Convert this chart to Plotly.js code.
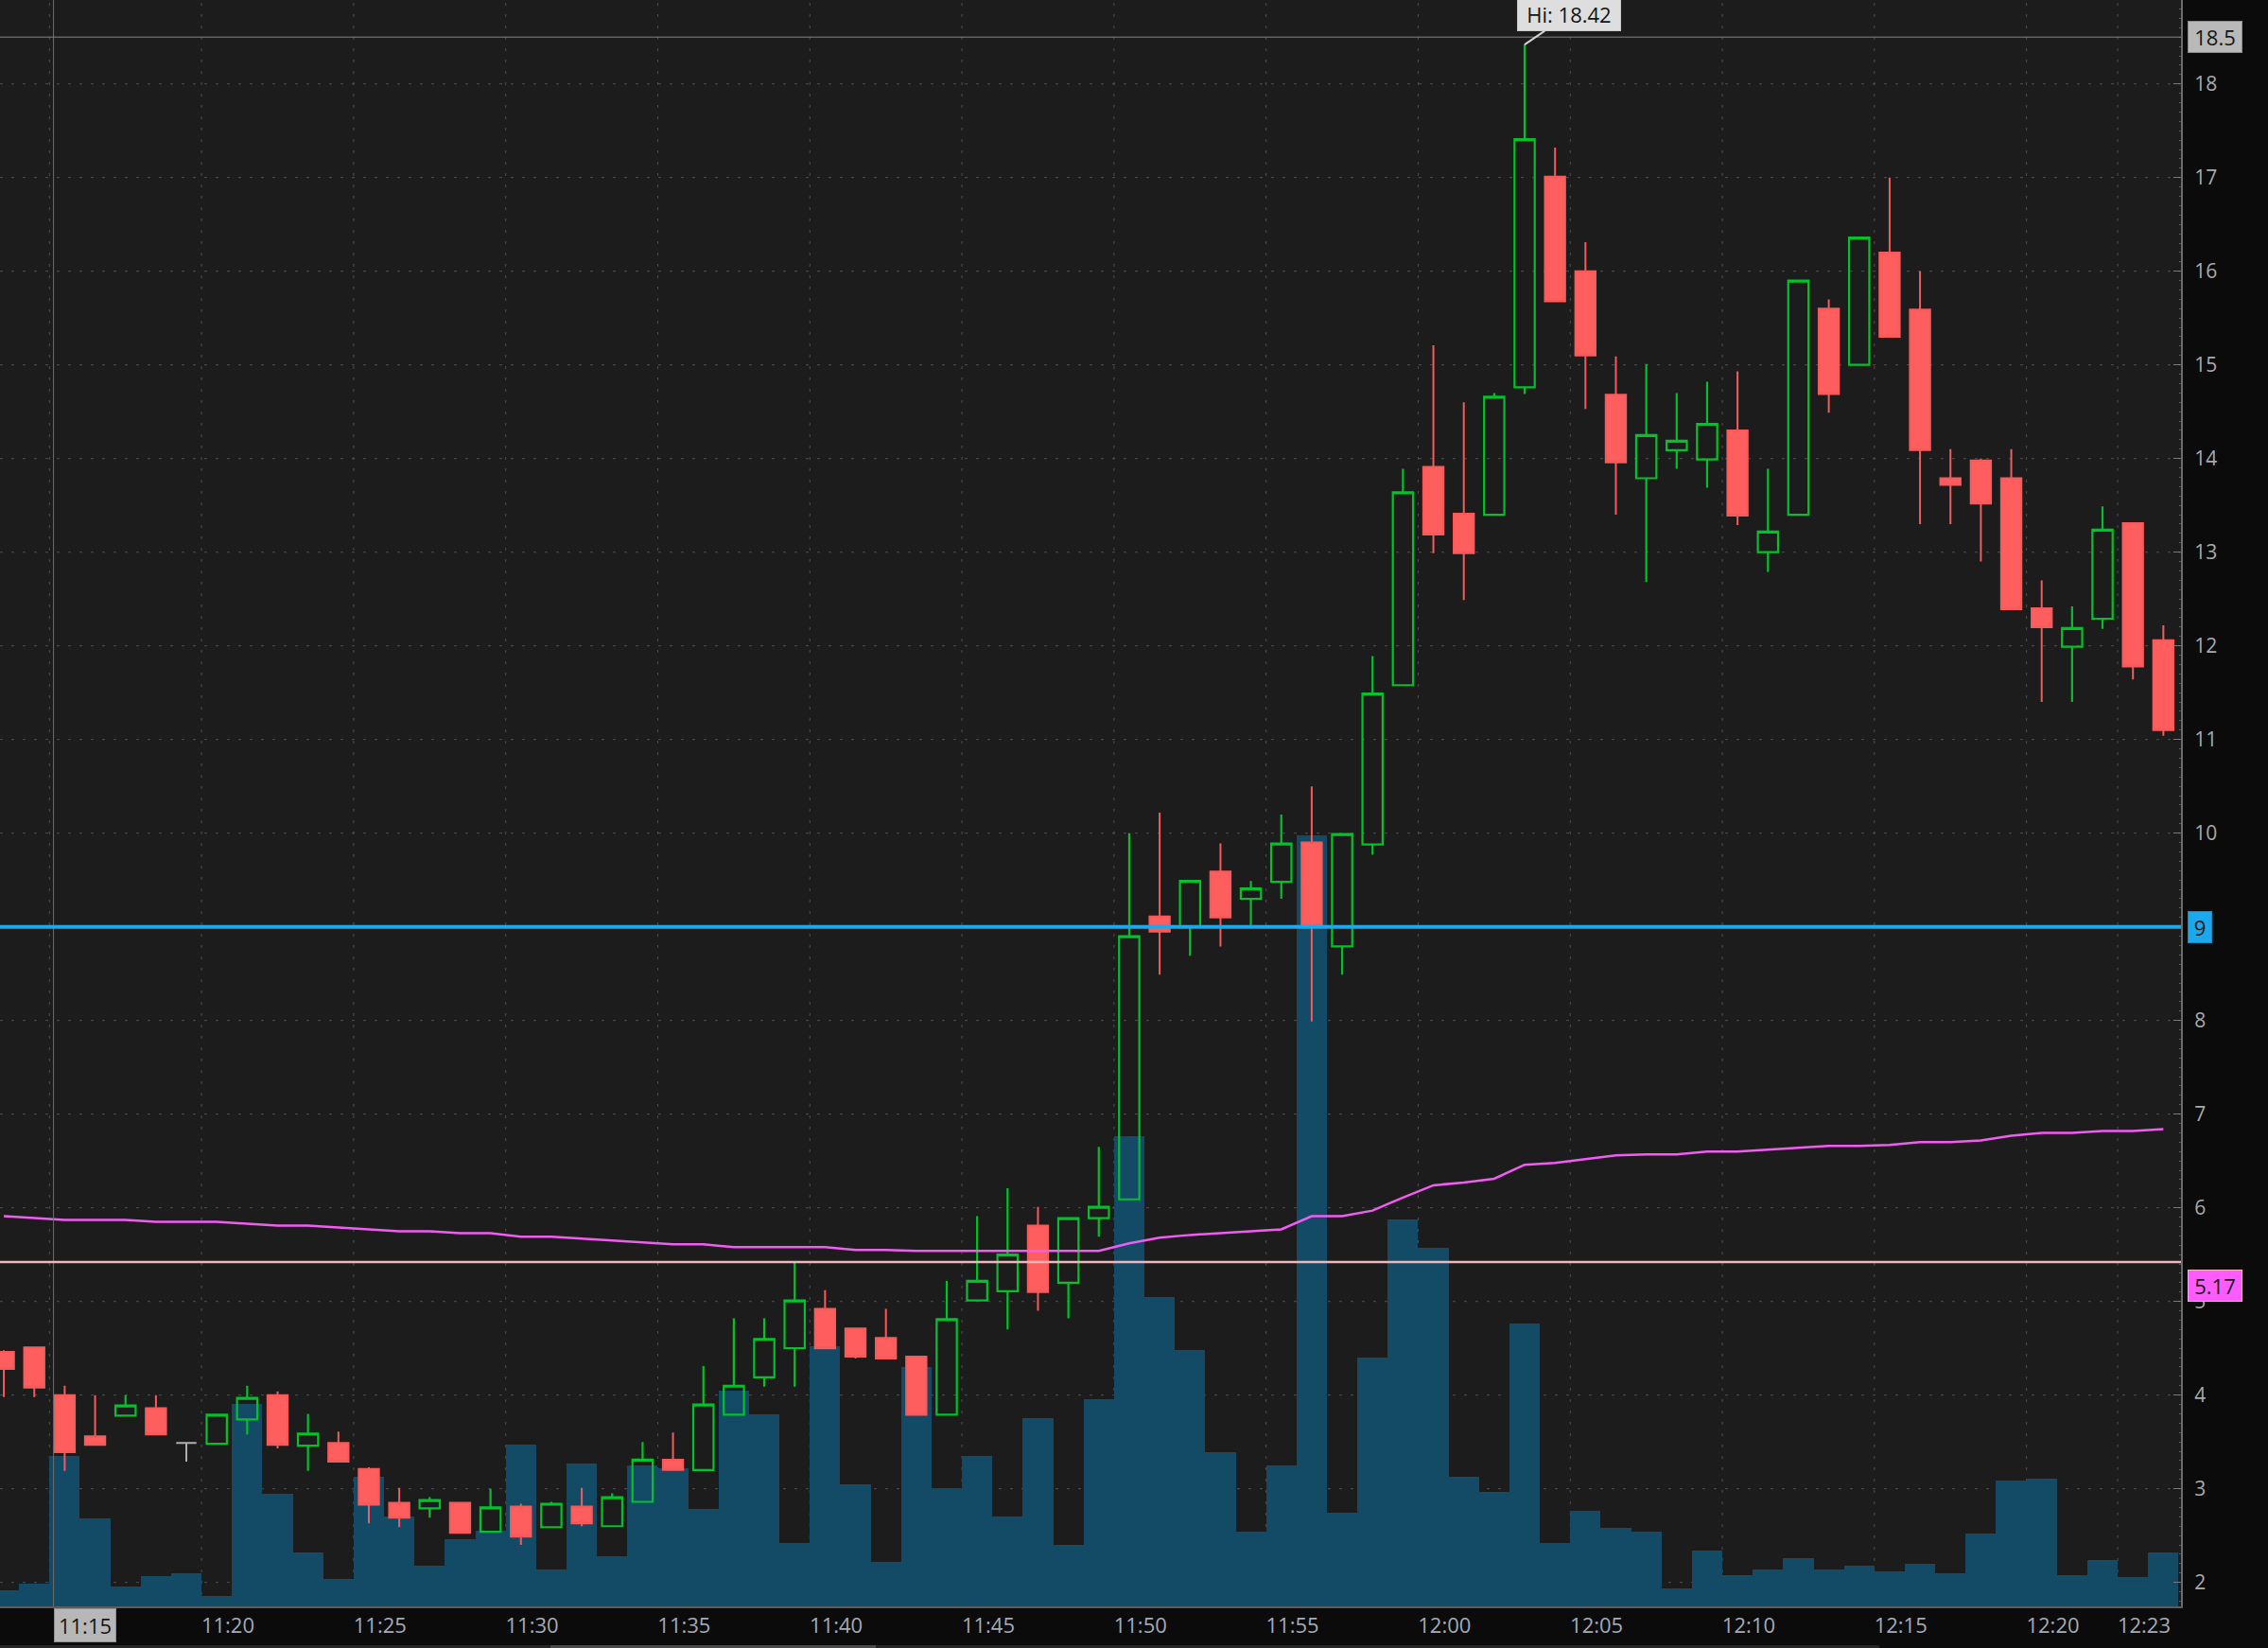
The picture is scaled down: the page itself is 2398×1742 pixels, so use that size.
<!DOCTYPE html>
<html><head><meta charset="utf-8">
<script src="https://cdn.plot.ly/plotly-3.0.1.min.js"></script>
<style>html,body{margin:0;padding:0;background:#0b0b0b;overflow:hidden}#chart{width:2398px;height:1742px}</style>
</head><body><div id="chart"></div>
<script>
const sessionDay = '2024-01-02';
const times = ['11:12','11:13','11:14','11:15','11:16','11:17','11:18','11:19','11:20','11:21','11:22','11:23',
'11:24','11:25','11:26','11:27','11:28','11:29','11:30','11:31','11:32','11:33','11:34','11:35',
'11:36','11:37','11:38','11:39','11:40','11:41','11:42','11:43','11:44','11:45','11:46','11:47',
'11:48','11:49','11:50','11:51','11:52','11:53','11:54','11:55','11:56','11:57','11:58','11:59',
'12:00','12:01','12:02','12:03','12:04','12:05','12:06','12:07','12:08','12:09','12:10','12:11',
'12:12','12:13','12:14','12:15','12:16','12:17','12:18','12:19','12:20','12:21','12:22','12:23'];
const openPx = [4.46,4.51,4.00,3.56,3.78,3.86,3.49,3.48,3.74,4.00,3.46,3.49,
3.21,2.85,2.79,2.85,2.54,2.81,2.59,2.81,2.60,2.86,3.31,3.20,
3.79,4.19,4.50,4.92,4.71,4.61,4.41,3.79,5.01,5.11,5.81,5.20,
5.89,6.09,9.11,9.00,9.59,9.30,9.48,9.90,8.79,9.88,11.58,13.91,
13.41,13.40,14.76,17.01,16.00,14.68,13.79,14.09,13.99,14.30,13.00,13.40,
15.60,15.00,16.20,15.59,13.79,13.98,13.79,12.40,11.99,12.29,13.31,12.06];
const highPx = [4.48,4.52,4.10,4.00,4.00,4.00,3.50,3.79,4.10,4.04,3.80,3.61,
3.23,3.01,2.91,2.86,3.00,2.84,2.86,3.01,2.95,3.50,3.60,4.31,
4.82,4.82,5.42,5.12,4.71,4.92,4.41,5.22,5.91,6.21,6.01,5.89,
6.65,10.00,10.22,9.49,9.89,9.49,10.20,10.50,9.99,11.89,13.89,15.21,
14.60,14.70,18.42,17.32,16.31,15.09,15.01,14.70,14.82,14.93,13.89,15.90,
15.70,16.36,17.00,16.00,14.10,14.00,14.10,12.70,12.42,13.49,13.31,12.22];
const lowPx = [3.98,3.98,3.19,3.46,3.78,3.58,3.29,3.48,3.58,3.43,3.19,3.29,
2.63,2.59,2.69,2.52,2.53,2.40,2.58,2.60,2.60,2.86,3.20,3.20,
3.79,4.09,4.09,4.50,4.39,4.39,3.79,3.79,5.01,4.70,4.90,4.82,
5.69,6.09,8.49,8.69,8.79,9.00,9.30,7.99,8.49,9.77,11.58,12.99,
12.49,13.40,14.69,15.68,14.53,13.40,12.68,13.89,13.69,13.29,12.79,13.40,
14.49,15.00,15.30,13.30,13.30,12.90,12.39,11.40,11.40,12.18,11.64,11.04];
const closePx = [4.28,4.08,3.39,3.47,3.89,3.58,3.49,3.79,3.97,3.47,3.59,3.29,
2.83,2.69,2.88,2.53,2.80,2.49,2.84,2.63,2.91,3.31,3.20,3.90,
4.10,4.60,5.01,4.50,4.41,4.39,3.79,4.81,5.22,5.50,5.10,5.89,
6.01,8.90,8.95,9.49,9.10,9.41,9.89,9.00,9.99,11.49,13.64,13.19,
12.99,14.66,17.41,15.68,15.10,13.96,14.25,14.19,14.37,13.39,13.22,15.90,
14.69,16.36,15.30,14.09,13.72,13.52,12.39,12.20,12.19,13.24,11.78,11.10];
const volumeK = [17,24,159,93,21,32,35,11,214,119,57,29,
137,95,43,71,80,171,39,151,53,149,146,103,
228,203,67,275,129,47,253,125,159,95,199,65,
219,497,327,271,163,79,149,815,99,263,409,379,
137,121,299,67,101,83,79,19,59,33,39,51,
39,43,37,45,35,77,133,135,33,49,31,57];
const vwapPx = [5.91,5.89,5.87,5.87,5.87,5.85,5.85,5.85,5.83,5.81,5.81,5.79,
5.77,5.75,5.75,5.73,5.73,5.69,5.69,5.67,5.65,5.63,5.61,5.61,
5.58,5.58,5.58,5.58,5.55,5.55,5.54,5.54,5.54,5.54,5.54,5.54,
5.54,5.62,5.68,5.71,5.73,5.75,5.77,5.91,5.91,5.97,6.11,6.24,
6.27,6.31,6.46,6.48,6.52,6.56,6.57,6.57,6.60,6.60,6.62,6.64,
6.66,6.66,6.67,6.70,6.70,6.72,6.77,6.80,6.80,6.82,6.82,6.84];
const timeTickLabels = ['11:15','11:20','11:25','11:30','11:35','11:40','11:45','11:50','11:55',
'12:00','12:05','12:10','12:15','12:20','12:23'];
const cursorTickLabel = '11:15';
const priceTicks = [2,3,4,5,6,7,8,9,10,11,12,13,14,15,16,17,18];
const alertLevel = 9;
const pinkLevel = 5.42;
const markerLevel = 18.5;
const studyLabelValue = 5.17;
const sessionHigh = 18.42;
const sessionHighTime = '12:02';

function pad(n){return String(n).padStart(2,'0');}
function ts(hhmm, offSec){
  const p = hhmm.split(':').map(Number);
  let s = p[0]*3600 + p[1]*60 + (offSec||0);
  const h = Math.floor(s/3600); s -= h*3600;
  const m = Math.floor(s/60); s -= m*60;
  return sessionDay + ' ' + pad(h) + ':' + pad(m) + ':' + s.toFixed(3).padStart(6,'0');
}
const xs = times.map(t => ts(t,0));
const isDoji = openPx.map((o,i) => o === closePx[i]);
const pick = (arr, want) => arr.map((v,i) => isDoji[i] === want ? v : null);

const GREEN = '#00c22b', RED = '#ff5e5e', GRAY = '#b0b0b0';
const yRange = [1.744, 18.896];

const traces = [
  {type:'bar', x: xs, y: volumeK, yaxis:'y', width: 60000,
   marker:{color:'#134a65', line:{width:0}}, hoverinfo:'skip'},
  {type:'scatter', mode:'lines', x: xs, y: vwapPx, yaxis:'y2', line:{color:'#f35cf3', width:2.5}, hoverinfo:'skip'},
  {type:'candlestick', x: xs, yaxis:'y2', open: pick(openPx,false), high: pick(highPx,false), low: pick(lowPx,false), close: pick(closePx,false),
   increasing:{line:{color:GREEN, width:2.2}, fillcolor:'rgba(0,0,0,0)'},
   decreasing:{line:{color:'#f65a5a', width:2}, fillcolor:RED},
   whiskerwidth:0, hoverinfo:'skip'},
  {type:'candlestick', x: xs, yaxis:'y2', open: pick(openPx,true), high: pick(highPx,true), low: pick(lowPx,true), close: pick(closePx,true),
   increasing:{line:{color:GRAY, width:2}, fillcolor:GRAY},
   decreasing:{line:{color:GRAY, width:2}, fillcolor:GRAY},
   whiskerwidth:0, hoverinfo:'skip'}
];

const xRange = [ts(times[0], -7.6), ts(times[times.length-1], 34.8)];
const gridLine = {color:'#4f4f4f', width:1, dash:'3px,9px'};
const shapes = [];
timeTickLabels.forEach(lbl => shapes.push({type:'line', xref:'x', yref:'y2', x0: ts(lbl,-90), x1: ts(lbl,-90), y0:yRange[0], y1:yRange[1],
  line:gridLine, layer:'below'}));
priceTicks.forEach(p => shapes.push({type:'line', xref:'paper', yref:'y2', x0:0, x1:1, y0:p, y1:p, line:gridLine, layer:'below'}));
shapes.push({type:'line', xref:'x', yref:'paper', x0: ts('11:13',38), x1: ts('11:13',38), y0:0, y1:1, line:{color:'#6f6f6f', width:1}, layer:'above'});
shapes.push({type:'line', xref:'paper', yref:'y2', x0:0, x1:1, y0:markerLevel, y1:markerLevel, line:{color:'#858585', width:1}, layer:'above'});
shapes.push({type:'line', xref:'paper', yref:'y2', x0:0, x1:1, y0:pinkLevel, y1:pinkLevel, line:{color:'#f3b4bc', width:2.5}, layer:'above'});
shapes.push({type:'line', xref:'paper', yref:'y2', x0:0, x1:1, y0:alertLevel, y1:alertLevel, line:{color:'#1ba8ec', width:4}, layer:'above'});
shapes.push({type:'rect', xref:'paper', yref:'paper', x0:0, x1:0.8617, y0:-0.0259, y1:-0.0241, line:{width:0}, fillcolor:'#262626'});
shapes.push({type:'rect', xref:'paper', yref:'paper', x0:0.2524, x1:0.4016, y0:-0.0259, y1:-0.0241, line:{width:0}, fillcolor:'#4a4a4a'});

const boxFont = {family:'Open Sans', size:22, color:'#151515'};
const annotations = [
  {xref:'paper', x:1, xanchor:'left', xshift:7, yref:'y2', y:markerLevel, text:String(markerLevel), showarrow:false,
   bgcolor:'#b9b9b9', bordercolor:'#8d8d8d', borderwidth:1, borderpad:1, width:54, font:boxFont},
  {xref:'paper', x:1, xanchor:'left', xshift:7, yref:'y2', y:alertLevel, text:String(alertLevel), showarrow:false,
   bgcolor:'#1ba8ec', bordercolor:'#128cc4', borderwidth:1, borderpad:1, width:22, font:boxFont},
  {xref:'paper', x:1, xanchor:'left', xshift:7, yref:'y2', y:studyLabelValue, text:studyLabelValue.toFixed(2), showarrow:false,
   bgcolor:'#ff5cff', bordercolor:'#ffb3c6', borderwidth:1, borderpad:1, width:54, font:boxFont},
  {xref:'x', x: ts(sessionHighTime,0), yref:'y2', y: sessionHigh, text:'Hi: ' + sessionHigh.toFixed(2),
   showarrow:true, arrowhead:0, arrowwidth:2, arrowcolor:'#d4d4d4', ax:47, ay:-32, standoff:0,
   bgcolor:'#dedede', bordercolor:'#c8c8c8', borderwidth:1, borderpad:2, width:104, font:{family:'Open Sans', size:22, color:'#151515'}},
  {xref:'x', x: ts('11:13',38), xanchor:'left', yref:'paper', y:0, yanchor:'top', yshift:-2, text:cursorTickLabel, showarrow:false,
   bgcolor:'#b7b7b7', bordercolor:'#8f8f8f', borderwidth:1, borderpad:2, width:60, font:{family:'Open Sans', size:22, color:'#151515'}}
];

const layout = {
  width:2398, height:1742, margin:{l:0, r:92, t:0, b:44, pad:0},
  paper_bgcolor:'#0b0b0b', plot_bgcolor:'#1c1c1c', showlegend:false, hovermode:false, dragmode:false,
  boxgap:0.335, boxgroupgap:0, bargap:0,
  xaxis:{type:'date', range:xRange, rangeslider:{visible:false}, showgrid:false, zeroline:false,
    tickvals: timeTickLabels.map(l => ts(l,-38)), ticktext: timeTickLabels.map(l => l === cursorTickLabel ? '' : l),
    ticks:'', tickfont:{family:'Open Sans', size:22, color:'#a3abb6'}, showline:true, linecolor:'#5c5c5c', linewidth:2, fixedrange:true},
  yaxis:{range:[0,1698], visible:false, fixedrange:true},
  yaxis2:{overlaying:'y', range:yRange, side:'right', tickvals: priceTicks,
    ticktext: priceTicks.map(p => p === alertLevel ? '' : String(p)),
    showgrid:false, zeroline:false,
    ticks:'inside', ticklen:8, tickcolor:'#7a7a7a', tickwidth:1,
    minor:{ticks:'inside', ticklen:2, dtick:0.1, tickcolor:'#5a5a5a', showgrid:false},
    tickfont:{family:'Open Sans', size:21, color:'#a9a9a9'}, ticklabelstandoff:8,
    showline:true, linecolor:'#6a6a6a', linewidth:2, fixedrange:true},
  shapes: shapes, annotations: annotations
};
Plotly.newPlot('chart', traces, layout, {staticPlot:true, displayModeBar:false});
</script></body></html>
